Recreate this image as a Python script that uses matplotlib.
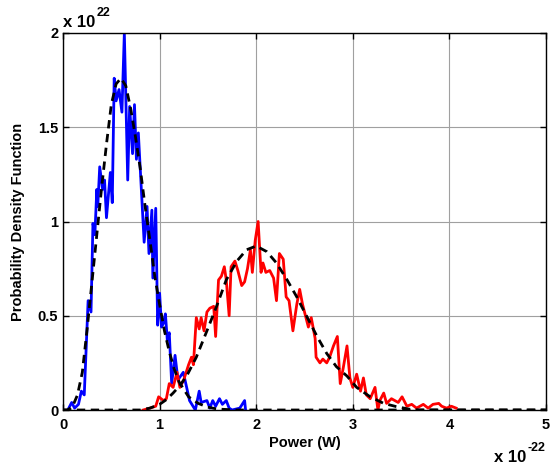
import matplotlib
matplotlib.use("Agg")
import matplotlib.pyplot as plt

# Blue measured pdf (x in 1e-22 W, y in 1e22)
blue_x = [0.05, 0.09, 0.12, 0.16, 0.19, 0.22, 0.26, 0.29, 0.31, 0.33, 0.35, 0.36,
          0.38, 0.41, 0.43, 0.45, 0.49, 0.51, 0.53, 0.55, 0.58, 0.61, 0.635, 0.67,
          0.69, 0.72, 0.74, 0.76, 0.78, 0.84, 0.87, 0.89, 0.92, 0.93, 0.96, 0.98,
          1.00, 1.02, 1.04, 1.06, 1.08, 1.10, 1.125, 1.16, 1.19, 1.245, 1.28, 1.31,
          1.37, 1.41, 1.43, 1.49, 1.52, 1.55, 1.58, 1.62, 1.65, 1.69, 1.72, 1.75,
          1.83, 1.88, 1.89]
blue_y = [0.0, 0.04, 0.01, 0.03, 0.10, 0.08, 0.58, 0.52, 0.99, 0.93, 1.17, 1.08,
          1.29, 1.17, 1.22, 1.02, 1.26, 1.10, 1.76, 1.64, 1.70, 1.58, 2.00, 1.22,
          1.61, 1.36, 1.62, 1.33, 1.47, 0.89, 1.08, 0.83, 1.06, 0.70, 1.07, 0.45,
          0.62, 0.44, 0.46, 0.51, 0.37, 0.41, 0.14, 0.29, 0.16, 0.20, 0.12, 0.05,
          0.0, 0.10, 0.04, 0.05, 0.01, 0.05, 0.02, 0.06, 0.03, 0.05, 0.01, 0.0,
          0.01, 0.05, 0.0]

# Red measured pdf
red_x = [0.83, 0.90, 0.96, 0.99, 1.04, 1.07, 1.10, 1.14, 1.18, 1.21, 1.25, 1.30,
         1.33, 1.35, 1.38, 1.41, 1.43, 1.46, 1.49, 1.52, 1.56, 1.58, 1.61, 1.64,
         1.67, 1.69, 1.72, 1.74, 1.78, 1.81, 1.85, 1.88, 1.91, 1.94, 1.96, 1.99,
         2.02, 2.05, 2.07, 2.10, 2.14, 2.18, 2.21, 2.24, 2.28, 2.31, 2.34, 2.38,
         2.42, 2.45, 2.48, 2.54, 2.57, 2.61, 2.62, 2.66, 2.69, 2.73, 2.76, 2.80,
         2.84, 2.87, 2.90, 2.94, 2.97, 3.00, 3.04, 3.08, 3.11, 3.14, 3.18, 3.23,
         3.26, 3.28, 3.32, 3.35, 3.40, 3.47, 3.51, 3.56, 3.61, 3.66, 3.73, 3.78,
         3.83, 3.89, 3.92, 3.97, 4.02, 4.07]
red_y = [0.0, 0.01, 0.02, 0.07, 0.05, 0.06, 0.14, 0.12, 0.20, 0.12, 0.16, 0.24,
         0.28, 0.24, 0.49, 0.43, 0.49, 0.42, 0.52, 0.54, 0.55, 0.39, 0.69, 0.71,
         0.76, 0.69, 0.50, 0.76, 0.79, 0.74, 0.66, 0.68, 0.75, 0.85, 0.73, 0.90,
         1.00, 0.73, 0.78, 0.73, 0.74, 0.70, 0.58, 0.83, 0.80, 0.60, 0.58, 0.42,
         0.56, 0.64, 0.56, 0.44, 0.49, 0.38, 0.28, 0.25, 0.27, 0.25, 0.28, 0.34,
         0.39, 0.14, 0.22, 0.34, 0.17, 0.12, 0.19, 0.10, 0.17, 0.08, 0.06, 0.12,
         0.00, 0.05, 0.09, 0.035, 0.06, 0.04, 0.07, 0.02, 0.03, 0.01, 0.03, 0.01,
         0.03, 0.035, 0.02, 0.01, 0.02, 0.01]

# Fitted curves (dashed)
fit1_x = [0.0, 0.05, 0.1, 0.15, 0.2, 0.25, 0.3, 0.35, 0.4, 0.45, 0.5, 0.55, 0.6,
          0.65, 0.7, 0.75, 0.8, 0.85, 0.9, 0.95, 1.0, 1.05, 1.1, 1.15, 1.2, 1.3,
          1.4, 1.5, 1.6, 1.8, 2.0, 5.0]
fit1_y = [0.0, 0.0, 0.02, 0.08, 0.2, 0.43, 0.68, 0.93, 1.18, 1.41, 1.62, 1.73, 1.76,
          1.72, 1.60, 1.45, 1.28, 1.08, 0.90, 0.71, 0.56, 0.42, 0.31, 0.22, 0.15, 0.07,
          0.035, 0.015, 0.005, 0.0, 0.0, 0.0]

fit2_x = [0.0, 0.8, 0.9, 1.0, 1.07, 1.14, 1.21, 1.28, 1.38, 1.49, 1.59, 1.69, 1.80,
          1.90, 2.0, 2.11, 2.21, 2.32, 2.42, 2.52, 2.63, 2.73, 2.83, 2.94, 3.04,
          3.18, 3.32, 3.45, 3.63, 5.0]
fit2_y = [0.0, 0.0, 0.01, 0.03, 0.055, 0.09, 0.13, 0.18, 0.28, 0.42, 0.55, 0.69, 0.79,
          0.85, 0.87, 0.84, 0.78, 0.69, 0.60, 0.50, 0.39, 0.30, 0.23, 0.18, 0.12,
          0.07, 0.035, 0.018, 0.0, 0.0]

x_ticks = [0, 1, 2, 3, 4, 5]
y_ticks = [0, 0.5, 1, 1.5, 2]
y_labels = ['0', '0.5', '1', '1.5', '2']

plt.rcParams['font.family'] = ['Liberation Sans', 'DejaVu Sans']
plt.rcParams['font.weight'] = 'bold'

fig = plt.figure(figsize=(5.51, 4.68), dpi=100)
ax = fig.add_axes([63/551, 1-410/468, (546-63)/551, (410-33)/468])

ax.plot(blue_x, blue_y, color='#0000ff', lw=2)
ax.plot(red_x, red_y, color='#ff0000', lw=2)
ax.plot(fit1_x, fit1_y, 'k--', lw=2, dashes=(3, 2))
ax.plot(fit2_x, fit2_y, 'k--', lw=2, dashes=(3, 2))

ax.set_xlim(0, 5)
ax.set_ylim(0, 2)
ax.set_xticks(x_ticks)
ax.set_xticklabels([str(t) for t in x_ticks])
ax.set_yticks(y_ticks)
ax.set_yticklabels(y_labels)
ax.grid(True, color='#a0a0a0', lw=0.8)
ax.set_axisbelow(True)
ax.tick_params(direction='in', top=True, right=True, labelsize=10.5, length=4, width=1)
ax.tick_params(axis='x', pad=6)
for t in ax.get_xticklabels() + ax.get_yticklabels():
    t.set_fontweight('bold')
for s in ax.spines.values():
    s.set_linewidth(1)

ax.set_xlabel('Power (W)', fontsize=10.5, fontweight='bold', labelpad=3)
ax.set_ylabel('Probability Density Function', fontsize=10.5, fontweight='bold', labelpad=9)

# exponent labels
fig.text(63/551, 1-27/468, 'x 10', fontsize=12, fontweight='bold', va='baseline')
fig.text(97/551, 1-16/468, '22', fontsize=9, fontweight='bold', va='baseline')
fig.text(494/551, 1-462/468, 'x 10', fontsize=12, fontweight='bold', va='baseline')
fig.text(527/551, 1-451/468, '-22', fontsize=9, fontweight='bold', va='baseline')

fig.savefig('out.png', dpi=100)
